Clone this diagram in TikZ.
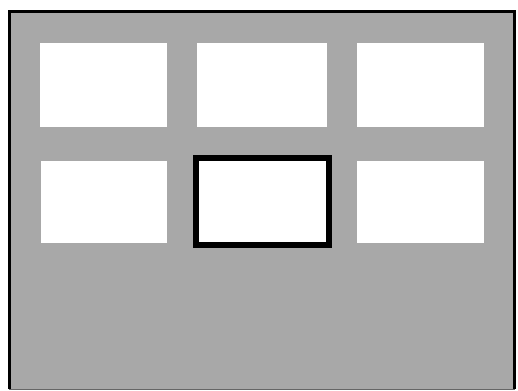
\documentclass[tikz,border=0pt]{standalone}
\definecolor{panelgray}{RGB}{168,168,168}
\tikzset{
  pane/.style={fill=white, draw=none, inner sep=0pt, outer sep=0pt, minimum width=127pt, minimum height=84pt},
  selpane/.style={fill=white, draw=black, line width=6pt, inner sep=0pt, outer sep=0pt, minimum width=133pt, minimum height=87pt},
  frameedge/.style={draw=black, line width=3pt},
}
\begin{document}
\begin{tikzpicture}[x=1pt, y=-1pt]
\useasboundingbox (0,0) rectangle (518,390);
\fill[panelgray] (9,12) rectangle (515,389);
\coordinate (bl) at (9,389);
\coordinate (tl) at (9,11.5);
\coordinate (tr) at (514.5,11.5);
\coordinate (br) at (514.5,389);
\draw[frameedge] (bl) -- (tl) -- (tr) -- (br);
\draw[black!60, line width=1pt] (bl) -- (br);
\node[pane] (p1) at (103.5,85) {};
\node[pane, minimum width=130pt] (p2) at (262,85) {};
\node[pane] (p3) at (420.75,85) {};
\node[pane, minimum width=126pt, minimum height=82pt] (p4) at (104,202) {};
\node[selpane] (p5) at (262.5,201.5) {};
\node[pane, minimum height=82pt] (p6) at (420.5,202) {};
\end{tikzpicture}
\end{document}
